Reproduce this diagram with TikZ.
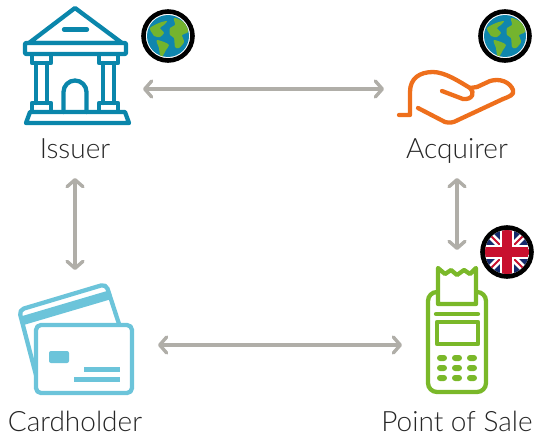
\documentclass[tikz,border=0pt]{standalone}
\usepackage{fontspec}
\setmainfont{Lato Light}
\usetikzlibrary{arrows.meta}
\definecolor{issuercol}{HTML}{0A86AB}
\definecolor{acquirercol}{HTML}{EE6F1C}
\definecolor{salecol}{HTML}{7AB829}
\definecolor{cardcol}{HTML}{6CC4DA}
\definecolor{linkcol}{HTML}{B0AEA8}
\definecolor{landcol}{HTML}{74B42E}
\definecolor{seacol}{HTML}{0F86AE}
\definecolor{flagblue}{HTML}{14296B}
\definecolor{flagred}{HTML}{C8102E}
\tikzset{
	area/.style = {inner sep = 0pt, outer sep = 0pt},
	tag/.style = {anchor = base, text = black!85, font = \fontsize{28}{32}\selectfont},
	link/.style = {line width = 3.4pt, color = linkcol, {Straight Barb[length = 7pt, width = 16pt, round]}-{Straight Barb[length = 7pt, width = 16pt, round]}},
	icon/.style = {line width = 4.3pt, line join = round, line cap = round},
	globe/.pic = {
		\fill[white] (0, 0) circle (25);
		\draw[black, line width = 4.6pt] (0, 0) circle (24.5);
		\fill[seacol] (0, 0) circle (21);
		\begin{scope}
			\clip (0, 0) circle (21);
			\fill[landcol] plot[smooth cycle] coordinates {(-18,-8) (-9,-13) (-1,-15) (-4,-11) (-8,-8) (-4,-3) (-8,1) (-11,1) (-14,0) (-16,-3)};
			\fill[landcol] plot[smooth cycle] coordinates {(-11,4) (-4,6) (1,9) (-2,14) (-6,21) (-8,19) (-9,12) (-11,7)};
			\fill[landcol] plot[smooth cycle] coordinates {(6,-18) (14,-15) (21,-8) (19,-3) (14,-1) (16,6) (11,12) (7,11) (6,2) (2,-1) (2,-8) (7,-11)};
		\end{scope}
	},
	pillar/.pic = {
		\draw[issuercol, icon] (-9.5, 54) rectangle (9.5, 63);
		\draw[issuercol, icon] (-5.5, 63) -- (-5.5, 103);
		\draw[issuercol, icon] (5.5, 63) -- (5.5, 103);
		\draw[issuercol, icon] (-9.5, 103) rectangle (9.5, 112);
	}
}
\begin{document}
\begin{tikzpicture}[x = 1pt, y = -1pt]
	\useasboundingbox (0, 0) rectangle (535, 439);

	% Nodes
	\node[area, minimum width = 136pt, minimum height = 178pt] (issuer) at (75, 89) {};
	\node[area, minimum width = 146pt, minimum height = 178pt] (acquirer) at (457, 89) {};
	\node[area, minimum width = 166pt, minimum height = 150pt] (cardholder) at (75, 345) {};
	\node[area, minimum width = 110pt, minimum height = 190pt] (sale) at (457, 345) {};

	\node[tag] (issuername) at (75, 158) {Issuer};
	\node[tag] (acquirername) at (457, 158) {Acquirer};
	\node[tag] (cardholdername) at (75, 431) {Cardholder};
	\node[tag] (salename) at (457, 431) {Point of Sale};

	% Issuer
	\draw[issuercol, icon] (75, 8) -- (29, 43) -- (122, 43) -- cycle;
	\draw[issuercol, icon] (64, 29.5) -- (87, 29.5);
	\draw[issuercol, icon, fill = white, rounded corners = 1pt] (25, 43) rectangle (126, 54);
	\pic at (41.5, 0) {pillar};
	\pic at (108.5, 0) {pillar};
	\draw[issuercol, icon] (63.5, 112) -- (63.5, 92) arc (180 : 360 : 11.5) -- (86.5, 112);
	\draw[issuercol, icon] (26, 123) -- (30, 112) -- (125, 112) -- (129, 123) -- cycle;

	% Acquirer
	\draw[acquirercol, icon] (399, 115) -- (410, 115) -- (410, 92)
		.. controls (410, 78) and (420, 72) .. (433, 72)
		.. controls (445, 72) and (460, 82) .. (470, 88)
		.. controls (475, 92) and (473, 100) .. (463, 99) -- (442, 91);
	\draw[acquirercol, icon] (477, 87) -- (490, 81)
		.. controls (500, 78) and (510, 82) .. (513, 90)
		.. controls (515, 95) and (508, 97) .. (503, 99) -- (458, 120)
		.. controls (453, 123) and (449, 123) .. (445, 122) -- (418, 108);
	\draw[acquirercol, icon] (470, 88) -- (477, 87);

	% Cardholder
	\draw[cardcol, icon, rounded corners = 5pt] (36, 375) -- (19, 310) -- (106, 284) -- (119, 324);
	\draw[cardcol, line width = 9pt] (23, 320.5) -- (111, 294.5);
	\draw[cardcol, icon, rounded corners = 5pt, fill = white] (36, 325) rectangle (132, 393);
	\fill[cardcol, rounded corners = 2pt] (49, 351) rectangle (69, 363);
	\draw[cardcol, line width = 5pt] (84, 369) -- (120, 369);
	\draw[cardcol, line width = 5pt] (74, 379) -- (120, 379);

	% Point of sale
	\draw[salecol, icon, rounded corners = 9pt] (437, 292) -- (428, 292) -- (428, 392) -- (486, 392) -- (486, 292) -- (477, 292);
	\draw[salecol, icon] (438, 304) -- (438, 268) -- (445, 274) -- (451, 270) -- (457, 275) -- (464, 270) -- (470, 274) -- (476, 268) -- (476, 304) -- cycle;
	\draw[salecol, icon] (436, 314) -- (478, 314);
	\draw[salecol, icon] (437, 322) rectangle (478, 344);
	\foreach \row in {358, 368, 378}
		\foreach \col in {442, 457, 472}
			\fill[salecol, rounded corners = 3pt] (\col - 5, \row - 3) rectangle (\col + 5, \row + 3);

	% Badges
	\pic at (168, 36) {globe};
	\pic at (505, 36) {globe};
	\fill[white] (507, 252) circle (25);
	\begin{scope}
		\clip (507, 252) circle (22);
		\fill[flagblue] (485, 230) rectangle (529, 274);
		\draw[white, line width = 7pt] (485, 230) -- (529, 274);
		\draw[white, line width = 7pt] (485, 274) -- (529, 230);
		\draw[flagred, line width = 2pt] (485, 230) -- (529, 274);
		\draw[flagred, line width = 2pt] (485, 274) -- (529, 230);
		\draw[white, line width = 14pt] (507, 230) -- (507, 274);
		\draw[white, line width = 14pt] (485, 252) -- (529, 252);
		\draw[flagred, line width = 10.5pt] (507, 230) -- (507, 274);
		\draw[flagred, line width = 10.5pt] (485, 252) -- (529, 252);
	\end{scope}
	\draw[black, line width = 4.6pt] (507, 252) circle (24.5);

	% Edges
	\draw[link] (issuer) to (acquirer);
	\draw[link] (issuer) to (cardholder);
	\draw[link] (acquirer) to (sale);
	\draw[link] (cardholder) to (sale);
\end{tikzpicture}
\end{document}
